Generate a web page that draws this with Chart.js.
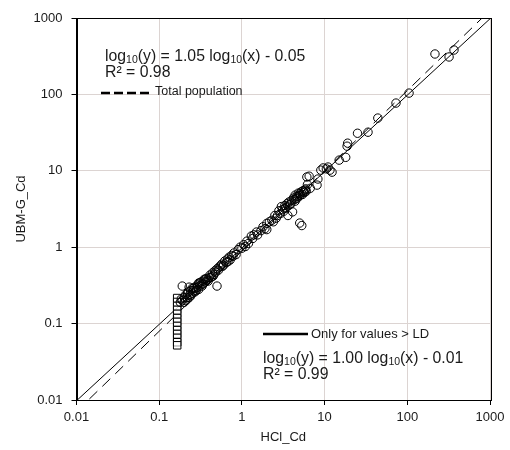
<!DOCTYPE html>
<html>
<head>
<meta charset="utf-8">
<script src="https://cdn.jsdelivr.net/npm/chart.js@4/dist/chart.umd.min.js"></script>
<style>
html,body{margin:0;padding:0;background:#fff;}
#wrap{width:510px;height:450px;}
</style>
</head>
<body>
<div id="wrap"><canvas id="c" width="510" height="450"></canvas></div>
<script>
// ---- data ----
const tickValues = [0.01, 0.1, 1, 10, 100, 1000];
const tickLabels = ['0.01', '0.1', '1', '10', '100', '1000'];

// values above the detection limit (circles)
const hclCd = [0.18,0.185,0.19,0.20,0.20,0.21,0.215,0.22,0.225,0.23,0.235,0.24,0.25,0.25,0.26,0.27,0.27,0.28,0.29,0.30,
  0.30,0.31,0.32,0.33,0.34,0.35,0.36,0.37,0.38,0.40,0.41,0.43,0.44,0.46,0.47,0.50,0.50,0.52,0.55,0.57,
  0.60,0.62,0.65,0.67,0.70,0.72,0.75,0.80,0.85,0.90,0.95,1.00,1.05,1.10,1.15,1.20,1.30,1.35,1.40,1.50,
  1.55,1.70,1.80,1.90,2.00,2.00,2.15,2.30,2.40,2.50,2.70,2.80,2.90,3.00,3.10,3.20,3.30,3.40,3.50,3.60,
  3.60,3.70,3.80,4.00,4.10,4.20,4.40,4.50,4.60,4.80,4.90,5.00,5.00,5.20,5.30,5.40,5.50,5.70,5.80,6.00,
  6.10,6.20,6.50,6.70,8.10,8.30,9.00,9.60,10.5,11.0,11.6,12.3,15.0,18.0,18.7,19.0,25.0,33.5,44.0,73.0,
  105,216,320,367,
  0.19,0.21,0.22,0.23,0.24,0.26,0.28,0.29,0.31,0.33,0.34,0.36,0.39,0.42,0.45,0.48,0.53,0.58,0.68,0.78,
  2.6,3.3,3.9,4.3,4.7,5.1,5.6,4.4,5.9];
const ubmCd = [0.19,0.21,0.31,0.22,0.19,0.24,0.22,0.21,0.26,0.30,0.24,0.27,0.25,0.29,0.27,0.30,0.26,0.29,0.32,0.28,
  0.34,0.31,0.35,0.33,0.36,0.38,0.35,0.39,0.37,0.40,0.43,0.41,0.46,0.44,0.49,0.31,0.52,0.50,0.57,0.60,
  0.58,0.66,0.63,0.70,0.74,0.68,0.78,0.84,0.80,0.93,1.00,0.97,1.08,1.02,1.20,1.12,1.40,1.30,1.45,1.58,
  1.45,1.65,1.85,1.75,1.70,2.05,2.15,2.25,2.15,2.60,2.60,3.00,2.75,3.40,3.10,2.95,3.50,3.30,3.70,3.45,
  2.60,3.90,3.60,4.10,2.90,4.40,4.80,4.30,4.60,5.10,4.70,5.00,2.07,5.30,1.92,4.90,5.50,5.20,5.60,5.40,
  8.30,6.60,8.50,5.90,6.50,7.80,10.2,10.9,10.6,11.2,10.2,9.6,13.8,15.0,21.0,23.0,31.0,32.0,49.0,77.0,
  104,338,309,381,
  0.20,0.20,0.25,0.22,0.23,0.29,0.27,0.30,0.34,0.31,0.33,0.38,0.36,0.40,0.42,0.47,0.55,0.56,0.65,0.76,
  2.4,3.2,3.7,4.2,4.4,4.8,5.3,4.0,5.8];

// values below the detection limit (squares)
const hclLD = [0.165,0.165,0.165,0.165,0.165,0.165,0.165,0.165,0.165,0.165,0.165,0.165,0.165];
const ubmLD = [0.216,0.192,0.170,0.151,0.134,0.118,0.105,0.093,0.082,0.073,0.065,0.057,0.052];

// regressions: log10(y) = slope*log10(x) + intercept
const fitTotal = {slope: 1.05, intercept: -0.05, r2: 0.98};
const fitLD = {slope: 1.00, intercept: -0.01, r2: 0.99};
const xRange = [0.01, 1000];

// ---- build ----
const fitLine = f => xRange.map(x => ({x: x, y: Math.pow(10, f.slope * Math.log10(x) + f.intercept)}));
const pts = (xs, ys) => xs.map((x, i) => ({x: x, y: ys[i]}));

const FONT = '"Liberation Sans", Arial, Helvetica, sans-serif';
const TXT = '#1a1a1a';
const EQ_SIZE = 15.8, SUB_SIZE = 10.5;

function richText(ctx, x, y, parts) {
  let cx = x;
  parts.forEach(p => {
    if (p.sub) {
      ctx.font = SUB_SIZE + 'px ' + FONT;
      ctx.fillText(p.t, cx, y + 3);
    } else {
      ctx.font = EQ_SIZE + 'px ' + FONT;
      ctx.fillText(p.t, cx, y);
    }
    cx += ctx.measureText(p.t).width;
  });
}
function eqParts(f) {
  const sign = f.intercept < 0 ? ' - ' : ' + ';
  return [{t:'log'},{t:'10',sub:true},{t:'(y) = ' + f.slope.toFixed(2) + ' log'},{t:'10',sub:true},
          {t:'(x)' + sign + Math.abs(f.intercept).toFixed(2)}];
}

const annot = {
  id: 'annot',
  afterDatasetsDraw(chart) {
    const ctx = chart.ctx, a = chart.chartArea;
    ctx.save();
    // frame
    ctx.strokeStyle = '#000'; ctx.lineWidth = 1;
    ctx.strokeRect(Math.round(a.left) + 0.5, Math.round(a.top) + 0.5, Math.round(a.right - a.left), Math.round(a.bottom - a.top));
    ctx.fillStyle = TXT;
    ctx.textBaseline = 'middle';
    ctx.textAlign = 'left';
    // top-left block
    richText(ctx, 105, 57, eqParts(fitTotal));
    ctx.font = EQ_SIZE + 'px ' + FONT;
    ctx.fillText('R² = ' + fitTotal.r2.toFixed(2), 105, 73);
    ctx.strokeStyle = '#000'; ctx.lineWidth = 2.5; ctx.setLineDash([9, 4]);
    ctx.beginPath(); ctx.moveTo(101, 93); ctx.lineTo(149, 93); ctx.stroke();
    ctx.setLineDash([]);
    ctx.font = '12.5px ' + FONT;
    ctx.fillText('Total population', 155, 92);
    // bottom-right block
    ctx.lineWidth = 2.5;
    ctx.beginPath(); ctx.moveTo(263, 334); ctx.lineTo(308, 334); ctx.stroke();
    ctx.font = '13px ' + FONT;
    ctx.fillText('Only for values > LD', 311, 334);
    richText(ctx, 263, 359, eqParts(fitLD));
    ctx.font = EQ_SIZE + 'px ' + FONT;
    ctx.fillText('R² = ' + fitLD.r2.toFixed(2), 263, 375);
    ctx.restore();
  }
};

const axisCommon = (title) => ({
  type: 'logarithmic',
  min: xRange[0], max: xRange[1],
  afterBuildTicks: s => { s.ticks = tickValues.map(v => ({value: v})); },
  ticks: {
    autoSkip: false, maxRotation: 0,
    color: TXT, font: {family: FONT, size: 13},
    callback: (v) => { const i = tickValues.findIndex(t => Math.abs(t - v) / t < 1e-6); return i >= 0 ? tickLabels[i] : ''; }
  },
  grid: {color: '#dcd4d2', lineWidth: 1, tickColor: '#000', tickLength: 5, drawTicks: true},
  border: {display: true, color: '#000', width: 1},
  title: {display: true, text: title, color: TXT, font: {family: FONT, size: 13}, padding: {top: 4, bottom: 4}}
});

const xAxis = axisCommon('HCl_Cd');
xAxis.position = 'bottom';
xAxis.ticks.padding = 5;
xAxis.afterFit = s => { s.height = 49; };
const yAxis = axisCommon('UBM-G_Cd');
yAxis.position = 'left';
yAxis.ticks.padding = 9;
yAxis.afterFit = s => { s.width = 66.5; };

new Chart(document.getElementById('c'), {
  type: 'scatter',
  data: {
    datasets: [
      {type: 'line', data: fitLine(fitLD), borderColor: '#000', borderWidth: 1, pointRadius: 0, fill: false, order: 3},
      {type: 'line', data: fitLine(fitTotal), borderColor: '#000', borderWidth: 1, borderDash: [11, 7], pointRadius: 0, fill: false, order: 4},
      {data: pts(hclLD, ubmLD), pointStyle: 'rect', pointRadius: 5.3, borderColor: '#000', borderWidth: 1, backgroundColor: 'rgba(255,255,255,0.6)', order: 2},
      {data: pts(hclCd, ubmCd), pointStyle: 'circle', pointRadius: 4.2, borderColor: '#000', borderWidth: 1, backgroundColor: 'rgba(0,0,0,0)', order: 1}
    ]
  },
  options: {
    responsive: false,
    animation: false,
    devicePixelRatio: 1,
    layout: {padding: {left: 10, right: 20, top: 18, bottom: 1}},
    plugins: {legend: {display: false}, tooltip: {enabled: false}},
    scales: {x: xAxis, y: yAxis}
  },
  plugins: [annot]
});
</script>
</body>
</html>
